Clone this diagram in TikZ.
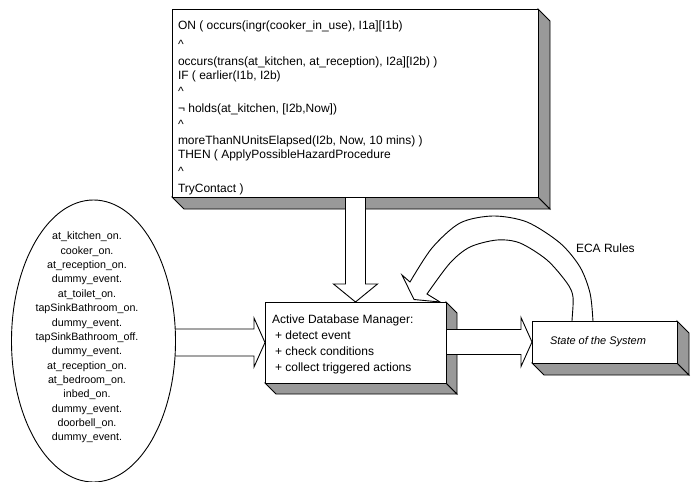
\documentclass[tikz,border=0pt]{standalone}
\usepackage{fontspec}
\setmainfont{Liberation Sans}
\usetikzlibrary{shapes.geometric,calc}
\pgfdeclarelayer{background}
\pgfsetlayers{background,main}
\definecolor{bevel}{RGB}{153,153,153}
\begin{document}
\begin{tikzpicture}[x=1pt,y=-1pt,line width=0.9pt,
  face/.style={draw,line width=0.9pt,fill=white,rectangle,inner sep=0pt,outer sep=0pt},
  bevelface/.style={draw,line width=0.9pt,fill=bevel,line join=miter},
  blockarrow/.style={draw=black,line width=0.9pt,fill=white,line join=miter},
  txt/.style={inner sep=0pt,outer sep=0pt},
  rline/.style={txt,anchor=base west,font=\fontsize{12}{14}\selectfont}]

\useasboundingbox (0,0) rectangle (691,482);

% front faces of the boxes and the event list
\node[face,minimum width=366pt,minimum height=188pt] (rules) at (355,103) {};
\node[face,minimum width=181pt,minimum height=81pt] (adm) at (355.5,342.5) {};
\node[face,minimum width=145pt,minimum height=42pt] (state) at (604.5,342) {};
\node[draw,line width=0.9pt,fill=white,ellipse,inner sep=0pt,outer sep=0pt,
      minimum width=164pt,minimum height=282pt] (events) at (93.5,341) {};

% rule text
\foreach \yy/\txt [count=\k] in {
  29.5/{ON ( occurs(ingr(cooker\_in\_use), I1a][I1b)},
  48/{\textasciicircum},
  65/{occurs(trans(at\_kitchen, at\_reception), I2a][I2b) )},
  79/{IF ( earlier(I1b, I2b)},
  95/{\textasciicircum},
  112.5/{¬ holds(at\_kitchen, [I2b,Now])},
  128/{\textasciicircum},
  144.5/{moreThanNUnitsElapsed(I2b, Now, 10 mins) )},
  158.5/{THEN ( ApplyPossibleHazardProcedure},
  175.5/{\textasciicircum},
  192/{TryContact )}}
  \node[rline] (rl\k) at (178,\yy) {\txt};

\node[txt,align=center,font=\fontsize{10.7}{14.36}\selectfont] (eventlist) at (87,337.6)
  {at\_kitchen\_on.\\cooker\_on.\\at\_reception\_on.\\dummy\_event.\\at\_toilet\_on.\\
   tapSinkBathroom\_on.\\dummy\_event.\\tapSinkBathroom\_off.\\dummy\_event.\\
   at\_reception\_on.\\at\_bedroom\_on.\\inbed\_on.\\dummy\_event.\\doorbell\_on.\\dummy\_event.};

\node[txt,anchor=west,align=left,font=\fontsize{12}{16}\selectfont] (admtext) at (272,344)
  {Active Database Manager:\\\hspace*{3pt}+ detect event\\\hspace*{3pt}+ check conditions\\
   \hspace*{3pt}+ collect triggered actions};

\node[txt,anchor=west,font=\fontsize{11}{13}\selectfont\itshape] (statetext) at (550,342)
  {State of the System};

\node[txt,anchor=west,font=\fontsize{12}{14}\selectfont] (ecalabel) at (576,248) {ECA Rules};

\begin{pgfonlayer}{background}
  \fill[white] (0,0) rectangle (691,482);
  % bevelled sides of the boxes
  \foreach \b/\d in {rules/12,adm/11,state/12} {
    \draw[bevelface] (\b.south west) -- (\b.south east) -- ++(\d,\d)
      -- ($(\b.south west)+(\d,\d)$) -- cycle;
    \draw[bevelface] (\b.north east) -- ++(\d,\d) -- ($(\b.south east)+(\d,\d)$)
      -- (\b.south east) -- cycle;
  }
  % rules -> manager
  \draw[blockarrow] ($(adm.north |- rules.south)+(-10,-5)$) -- ($(adm.north)+(-10,-18)$)
    -- ($(adm.north)+(-22,-18)$) -- (adm.north) -- ($(adm.north)+(22,-18)$)
    -- ($(adm.north)+(10,-18)$) -- ($(adm.north |- rules.south)+(10,-5)$);
  % events -> manager
  \draw[blockarrow] ($(events.center |- adm.west)+(0,-13.5)$) -- ($(adm.west)+(-11,-13.5)$)
    -- ($(adm.west)+(-11,-24.5)$) -- (adm.west) -- ($(adm.west)+(-11,24.5)$)
    -- ($(adm.west)+(-11,13.5)$) -- ($(events.center |- adm.west)+(0,13.5)$);
  % manager -> state
  \draw[blockarrow] ($(adm.center |- state.west)+(0,-12.5)$) -- ($(state.west)+(-11,-12.5)$)
    -- ($(state.west)+(-11,-24.5)$) -- (state.west) -- ($(state.west)+(-11,24.5)$)
    -- ($(state.west)+(-11,12.5)$) -- ($(adm.center |- state.west)+(0,12.5)$);
  % curved ECA arrow: state -> manager
  \coordinate (ecaout) at ($(state.north west)+(61,9)$);
  \coordinate (ecain) at ($(state.north west)+(40,9)$);
  \coordinate (ecatip) at ($(adm.north east)+(-32,-2.5)$);
  \draw[blockarrow] plot[smooth] coordinates {(ecaout) (593,321) (590,293) (580,267)
      (560,243) (527,222) (493,216) (460,223) (432,248) (410,282)}
    -- (402,275) -- (ecatip) -- (440,302)
    -- plot[smooth] coordinates {(427,294) (450,263) (470,247) (497,240) (520,243)
      (547,260) (567,283) (573,297) (572,321) (ecain)}
    -- cycle;
\end{pgfonlayer}
\end{tikzpicture}
\end{document}
